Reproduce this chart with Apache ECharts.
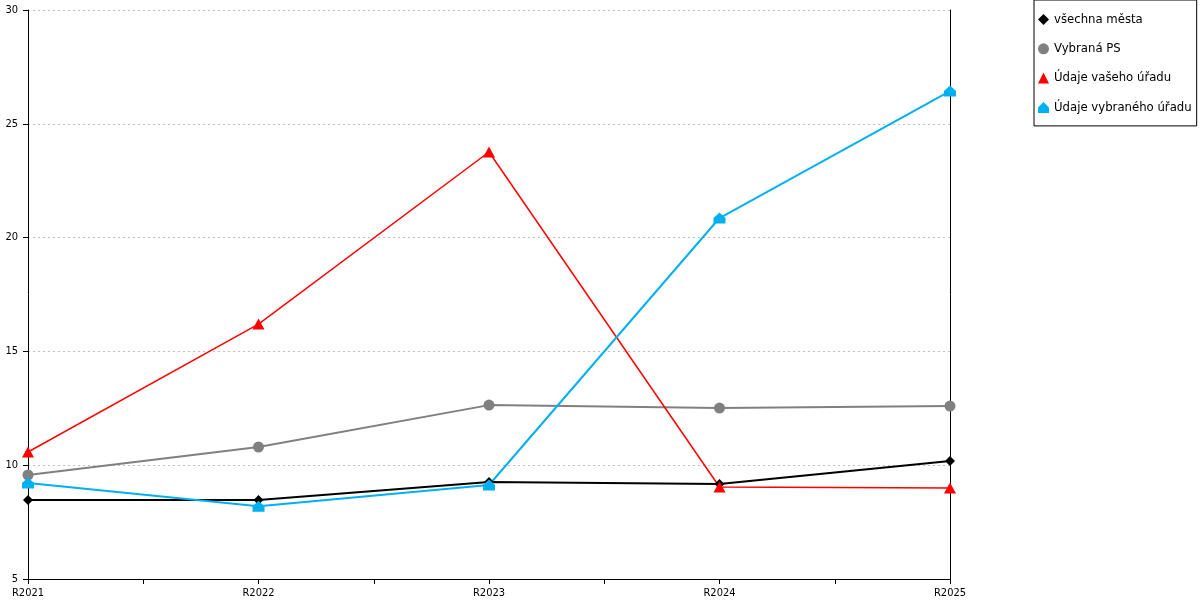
<!DOCTYPE html>
<html>
<head>
<meta charset="utf-8">
<script src="https://cdn.jsdelivr.net/npm/echarts@6/dist/echarts.min.js"></script>
<style>
  html, body { margin: 0; padding: 0; background: #fff; }
  #chart { width: 1200px; height: 600px; }
</style>
</head>
<body>
<div id="chart"></div>
<script>
var categories = ['R2021', 'R2022', 'R2023', 'R2024', 'R2025'];
var seriesNames = ['všechna města', 'Vybraná PS', 'Údaje vašeho úřadu', 'Údaje vybraného úřadu'];
var vsechnaMesta = [8.47, 8.47, 9.26, 9.17, 10.18];
var vybranaPS = [9.57, 10.8, 12.64, 12.51, 12.6];
var udajeVasehoUradu = [10.58, 16.2, 23.76, 9.04, 9.0];
var udajeVybranehoUradu = [9.22, 8.2, 9.13, 20.86, 26.44];

var housePath = 'path://M0,5 L5,0 L10,5 L10,10 L0,10 Z';
var fontFamily = '"DejaVu Sans Condensed", "DejaVu Sans", sans-serif';

function toPoints(values) {
    return values.map((v, i) => [i, v]);
}

var chart = echarts.init(document.getElementById('chart'));

var styles = [
    {color: '#000000', symbol: 'diamond', size: 10, width: 2},
    {color: '#808080', symbol: 'circle', size: 11, width: 2},
    {color: '#ff0000', symbol: 'triangle', size: [12, 11], width: 1.5},
    {color: '#00b0f0', symbol: housePath, size: [12, 11], width: 2}
];
var allValues = [vsechnaMesta, vybranaPS, udajeVasehoUradu, udajeVybranehoUradu];

chart.setOption({
    animation: false,
    textStyle: {fontFamily: fontFamily},
    grid: {
        left: 28,
        right: 250,
        top: 10,
        bottom: 21
    },
    legend: {
        orient: 'vertical',
        left: 1034,
        top: 0,
        padding: [12.5, 5, 11.5, 4],
        itemWidth: 11,
        itemHeight: 11,
        itemGap: 15.3,
        borderColor: '#000',
        borderWidth: 1,
        textStyle: {
            color: '#000',
            fontSize: 13,
            fontFamily: fontFamily,
            lineHeight: 14
        },
        data: seriesNames.map((name, i) => ({
            name: name,
            icon: styles[i].symbol
        }))
    },
    xAxis: {
        type: 'value',
        min: 0,
        max: 4,
        interval: 0.5,
        axisLine: {lineStyle: {color: '#000', width: 1}},
        axisTick: {show: true, length: 5, lineStyle: {color: '#000'}},
        axisLabel: {
            color: '#000',
            fontSize: 11,
            margin: 9,
            showMinLabel: true,
            showMaxLabel: true,
            formatter(v) {
                return Number.isInteger(v) ? categories[v] : '';
            }
        },
        splitLine: {show: false}
    },
    yAxis: [{
        type: 'value',
        min: 5,
        max: 30,
        interval: 5,
        axisLine: {show: true, lineStyle: {color: '#000', width: 1}},
        axisTick: {show: true, length: 5, lineStyle: {color: '#000'}},
        axisLabel: {color: '#000', fontSize: 11, margin: 10},
        splitLine: {
            show: true,
            lineStyle: {color: '#c0c0c0', type: [2, 3], width: 1}
        }
    }, {
        type: 'value',
        position: 'right',
        min: 5,
        max: 30,
        interval: 5,
        axisLine: {show: true, lineStyle: {color: '#000', width: 1}},
        axisTick: {show: false},
        axisLabel: {show: false},
        splitLine: {show: false}
    }],
    series: seriesNames.map((name, i) => ({
        name: name,
        type: 'line',
        data: toPoints(allValues[i]),
        symbol: styles[i].symbol,
        symbolSize: styles[i].size,
        showAllSymbol: true,
        color: styles[i].color,
        itemStyle: {color: styles[i].color},
        lineStyle: {color: styles[i].color, width: styles[i].width}
    }))
});
</script>
</body>
</html>
